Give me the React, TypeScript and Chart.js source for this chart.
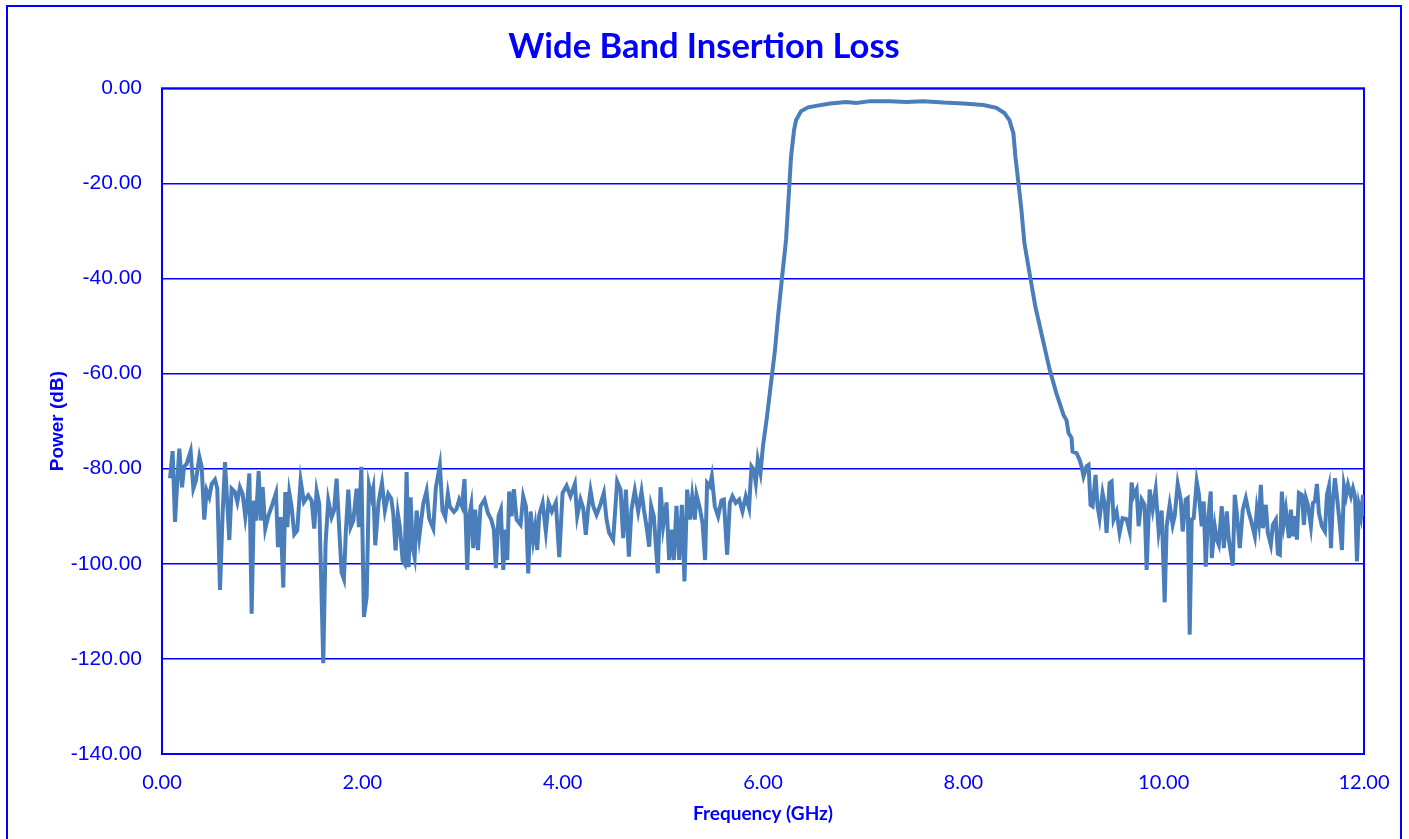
import React, { useEffect, useRef } from "react";
import { Chart, registerables } from "chart.js";

Chart.register(...registerables);

const chartTitle = "Wide Band Insertion Loss";
const xAxisTitle = "Frequency (GHz)";
const yAxisTitle = "Power (dB)";

const freqGHz: number[] = [
  0.08, 0.106, 0.13, 0.153, 0.173, 0.2, 0.22, 0.246, 0.286, 0.313, 0.339, 0.373, 0.396, 0.422, 0.446, 0.472,
  0.496, 0.529, 0.552, 0.579, 0.605, 0.629, 0.672, 0.695, 0.728, 0.752, 0.778, 0.805, 0.832, 0.852, 0.872,
  0.895, 0.918, 0.938, 0.965, 0.985, 1.005, 1.031, 1.058, 1.094, 1.138, 1.158, 1.184, 1.211, 1.231, 1.251,
  1.271, 1.294, 1.321, 1.35, 1.384, 1.417, 1.46, 1.494, 1.52, 1.544, 1.57, 1.61, 1.633, 1.66, 1.693, 1.717,
  1.743, 1.77, 1.793, 1.816, 1.836, 1.86, 1.883, 1.91, 1.943, 1.966, 1.99, 2.016, 2.043, 2.066, 2.092, 2.109,
  2.129, 2.162, 2.196, 2.225, 2.259, 2.289, 2.309, 2.332, 2.355, 2.375, 2.402, 2.422, 2.442, 2.462, 2.482,
  2.502, 2.522, 2.542, 2.568, 2.608, 2.641, 2.668, 2.708, 2.734, 2.774, 2.8, 2.828, 2.854, 2.874, 2.914, 2.94,
  2.967, 2.994, 3.02, 3.047, 3.067, 3.087, 3.107, 3.127, 3.154, 3.18, 3.22, 3.253, 3.287, 3.313, 3.333, 3.36,
  3.383, 3.407, 3.427, 3.447, 3.466, 3.49, 3.513, 3.54, 3.58, 3.606, 3.633, 3.656, 3.68, 3.706, 3.726, 3.746,
  3.766, 3.8, 3.832, 3.859, 3.892, 3.932, 3.966, 3.999, 4.039, 4.078, 4.122, 4.145, 4.178, 4.205, 4.231, 4.255,
  4.278, 4.305, 4.338, 4.371, 4.411, 4.438, 4.464, 4.504, 4.544, 4.578, 4.604, 4.631, 4.661, 4.687, 4.72,
  4.754, 4.787, 4.811, 4.837, 4.864, 4.883, 4.91, 4.95, 4.977, 5.003, 5.037, 5.063, 5.09, 5.11, 5.136, 5.163,
  5.19, 5.216, 5.243, 5.27, 5.293, 5.319, 5.336, 5.369, 5.396, 5.422, 5.442, 5.469, 5.489, 5.519, 5.552, 5.585,
  5.609, 5.642, 5.669, 5.695, 5.728, 5.762, 5.795, 5.828, 5.861, 5.885, 5.908, 5.928, 5.948, 5.975,
  6.0, 6.04, 6.08, 6.12, 6.15, 6.19, 6.23, 6.26, 6.28, 6.31, 6.33, 6.38, 6.45, 6.53, 6.67, 6.83, 6.93, 7.07,
  7.27, 7.43, 7.6, 7.8, 8.0, 8.2, 8.33, 8.41, 8.46, 8.5, 8.52, 8.55, 8.58, 8.61, 8.67, 8.72, 8.79, 8.86, 8.93,
  9.0, 9.03, 9.05, 9.08, 9.09, 9.13, 9.16, 9.18, 9.2, 9.23, 9.25,
  9.27, 9.29, 9.32, 9.34, 9.36, 9.39, 9.41, 9.43, 9.46, 9.48, 9.5, 9.53, 9.56, 9.59, 9.63, 9.66, 9.68, 9.7,
  9.73, 9.75, 9.78, 9.81, 9.83, 9.86, 9.89, 9.92, 9.95, 9.98, 10.01, 10.03, 10.06, 10.09, 10.11, 10.14, 10.17,
  10.19, 10.22, 10.24, 10.26, 10.28, 10.3, 10.33, 10.35, 10.38, 10.4, 10.42, 10.44, 10.47, 10.48, 10.51, 10.53,
  10.55, 10.58, 10.6, 10.63, 10.65, 10.69, 10.71, 10.73, 10.76, 10.79, 10.82, 10.85, 10.87, 10.91, 10.93, 10.95,
  10.97, 10.99, 11.02, 11.04, 11.07, 11.09, 11.12, 11.14, 11.16, 11.18, 11.2, 11.22, 11.25, 11.27, 11.29, 11.31,
  11.33, 11.35, 11.38, 11.4, 11.42, 11.44, 11.47, 11.49, 11.51, 11.53, 11.55, 11.58, 11.61, 11.63, 11.65, 11.67,
  11.69, 11.71, 11.74, 11.76, 11.78, 11.8, 11.82, 11.84, 11.87, 11.89, 11.91, 11.93, 11.95, 11.97, 11.99, 12.0,
];

const powerDb: number[] = [
  -82, -76.3, -91.2, -82.5, -75.8, -83.9, -79.6, -79, -76.3, -84.2, -82.5, -77.5, -79.6, -90.7, -84.6, -86,
  -83.2, -82.3, -84.2, -105.5, -89.5, -78.6, -95, -84.2, -84.9, -87, -83.9, -85.3, -90.2, -87, -81,
  -110.5, -86.7, -90.9, -80.5, -90.9, -83.9, -92.6, -90.2, -88, -85.1, -96.5, -90.2, -105, -84.9, -92.3,
  -85.1, -88, -93.8, -93, -82.5, -87, -85.6, -86.7, -92.6, -84.7, -87.4, -120.9, -95.8, -86.7, -90.2, -88.8,
  -82.1, -93, -101.8, -103.2, -93, -84.4, -92.3, -90.9, -84.2, -92.3, -79.6, -111.2, -107, -83.5, -86, -84.2,
  -96.1, -87, -83, -88.8, -85.3, -86.3, -89.5, -97.2, -89.5, -92.3, -99.3, -100, -80.7, -100.7, -86,
  -96.5, -98.6, -88.8, -94.4, -87.4, -84.7, -90.5, -92.6, -84, -79.3, -88.8, -90.2, -85.3, -88, -89.1, -88.5,
  -86.5, -87.9, -82.2, -101.3, -90, -87.6, -96.7, -88.6, -97.1, -87.9, -86.5, -89.3, -90.7, -92.8, -100.9, -90,
  -88.6, -101.3, -92.8, -99.2, -84.8, -90, -84.3, -90.7, -91.8, -85.8, -87.9, -102, -89, -95, -92.1, -97.1,
  -89.7, -87.2, -93.2, -87.2, -89, -87.1, -98.6, -85.1, -83.6, -85.8, -83.2, -90, -86.5, -88.3, -93.9, -88.3,
  -84.6, -87.9, -89.7, -87.9, -85.1, -90.7, -93.5, -95, -82.7, -84.4, -94.6, -84.4, -98.5, -88.6, -84.6,
  -89, -84.8, -88.6, -92.1, -96.4, -87.8, -90, -102, -83.9, -92.1, -87.1, -99.2, -92.8, -99.2, -87.8, -99.2,
  -87.6, -103.7, -84.4, -90.7, -85.8, -90.7, -85.5, -88.3, -91.4, -99.2, -83, -83.7, -81.6, -87.9, -90, -86.7,
  -86.5, -98.1, -87.2, -85.8, -87.2, -86.5, -89, -85.8, -88.3, -79.5, -80.2, -83, -78.1, -80.9,
  -75.2, -69, -62, -55, -48, -39.8, -31.9, -21.4, -14.4, -8.8, -6.7, -4.8, -4, -3.7, -3.2, -2.9, -3.1, -2.7,
  -2.7, -2.9, -2.7, -3, -3.2, -3.5, -4.1, -5.2, -6.7, -9.5, -14.4, -19.9, -25.6, -32.6, -40, -46, -52.5, -59, -64.2,
  -68.7, -69.8, -72.5, -73.5, -76.4, -76.7, -78.1, -79.5, -81.6, -79.5, -79.2,
  -87.6, -87.9, -81.3, -87.9, -90.4, -85.1, -87.2, -93.5, -83, -82.7, -90.7, -89, -93.5, -90.4, -90.6, -93.2, -82.9, -85.8,
  -84.4, -92.1, -86.5, -87.6, -101.3, -84.4, -88.6, -84.4, -93.2, -88.8, -108.1, -92.1, -87.6, -91.8, -90, -83.2, -86.5,
  -93.2, -86.5, -86.2, -114.9, -90.7, -90.4, -82.7, -85.1, -92.1, -86.9, -100.6, -91.4, -84.8, -98.8, -92.1, -94.9,
  -96, -87.9, -96.7, -89, -94.9, -100.4, -85.5, -89.3, -96.7, -88.6, -86.2, -89.3, -90.7, -94.2, -88.6, -91.4,
  -83.4, -92.5, -87.6, -93.5, -96, -91.8, -90.7, -97.9, -98.1, -84.8, -91.4, -88.6, -94.6, -88.6, -94.2, -90,
  -94.9, -85.1, -85.5, -91.8, -86.2, -87.6, -92.1, -87.2, -86.9, -83.2, -89.3, -92.1, -93.2, -85.5, -83.7, -96.7,
  -86.5, -82, -87.9, -92.1, -97.1, -83.6, -85.8, -83.4, -85.8, -84.1, -85.8, -99.5, -87.9, -90, -85.5, -90,
];

const xTicks = [0, 2, 4, 6, 8, 10, 12];
const yTicks = [0, -20, -40, -60, -80, -100, -120, -140];

const BLUE = "#0000FF";
const LINE = "rgb(74,126,187)";

const plotBorder = {
  id: "plotBorder",
  beforeDatasetsDraw(chart: any) {
    const { ctx, chartArea } = chart;
    ctx.save();
    ctx.strokeStyle = BLUE;
    ctx.lineWidth = 2;
    ctx.strokeRect(chartArea.left, chartArea.top, chartArea.right - chartArea.left, chartArea.bottom - chartArea.top);
    ctx.restore();
  },
};

export default function App() {
  const ref = useRef<HTMLCanvasElement | null>(null);

  useEffect(() => {
    if (!ref.current) return;
    const points = freqGHz.map((f, i) => ({ x: f, y: powerDb[i] }));
    const chart = new Chart(ref.current, {
      type: "line",
      data: {
        datasets: [
          {
            label: "S21",
            data: points,
            borderColor: LINE,
            borderWidth: 4,
            pointRadius: 0,
            tension: 0,
            fill: false,
            yAxisID: "y",
          },
        ],
      },
      plugins: [plotBorder],
      options: {
        animation: false,
        responsive: false,
        layout: { padding: { left: 0, right: 0, top: 0, bottom: 0 } },
        plugins: {
          legend: { display: false },
          tooltip: { enabled: false },
          title: {
            display: true,
            text: chartTitle,
            color: BLUE,
            font: { family: "Lato", size: 34.5, weight: "bold", lineHeight: 1.2 },
            padding: { top: 19.3, bottom: 20.6 },
          },
        },
        scales: {
          x: {
            type: "linear",
            min: 0,
            max: 12,
            afterFit: (s: any) => {
              s.height = 85;
              s.paddingLeft = 0;
              s.paddingRight = 0;
            },
            afterBuildTicks: (s: any) => {
              s.ticks = xTicks.map((v) => ({ value: v }));
            },
            ticks: {
              color: BLUE,
              font: { family: "Lato", size: 20 },
              padding: 17,
              maxRotation: 0,
              callback: (v: any) => Number(v).toFixed(2),
            },
            grid: { display: false, drawTicks: false },
            border: { display: false },
            title: {
              display: true,
              text: xAxisTitle,
              color: BLUE,
              font: { family: "Lato", size: 19, weight: "bold" },
              padding: { top: 0, bottom: 14 },
            },
          },
          y: {
            type: "linear",
            position: "left",
            min: -140,
            max: 0,
            afterFit: (s: any) => {
              s.width = 154;
              s.paddingTop = 0;
              s.paddingBottom = 0;
            },
            afterBuildTicks: (s: any) => {
              s.ticks = yTicks.map((v) => ({ value: v }));
            },
            ticks: {
              color: BLUE,
              font: { family: "Liberation Sans", size: 21 },
              padding: 20,
              callback: (v: any) => Number(v).toFixed(2),
            },
            grid: { color: BLUE, lineWidth: 1.5, drawTicks: false },
            border: { display: false },
            title: {
              display: true,
              text: yAxisTitle,
              color: BLUE,
              font: { family: "Liberation Sans", size: 19, weight: "bold" },
              padding: { top: 38, bottom: 0 },
            },
          },
          spacer: {
            type: "linear",
            position: "right",
            min: -140,
            max: 0,
            afterFit: (s: any) => {
              s.width = 36;
              s.paddingTop = 0;
              s.paddingBottom = 0;
            },
            ticks: { display: false },
            grid: { display: false, drawTicks: false },
            border: { display: false },
            title: { display: false },
          },
        },
      },
    });
    return () => chart.destroy();
  }, []);

  return (
    <div
      style={{
        position: "fixed",
        left: 6,
        top: 5,
        width: 1392,
        height: 900,
        border: "2px solid #0000FF",
        background: "#fff",
      }}
    >
      <canvas ref={ref} width={1392} height={832} style={{ display: "block" }} />
    </div>
  );
}
